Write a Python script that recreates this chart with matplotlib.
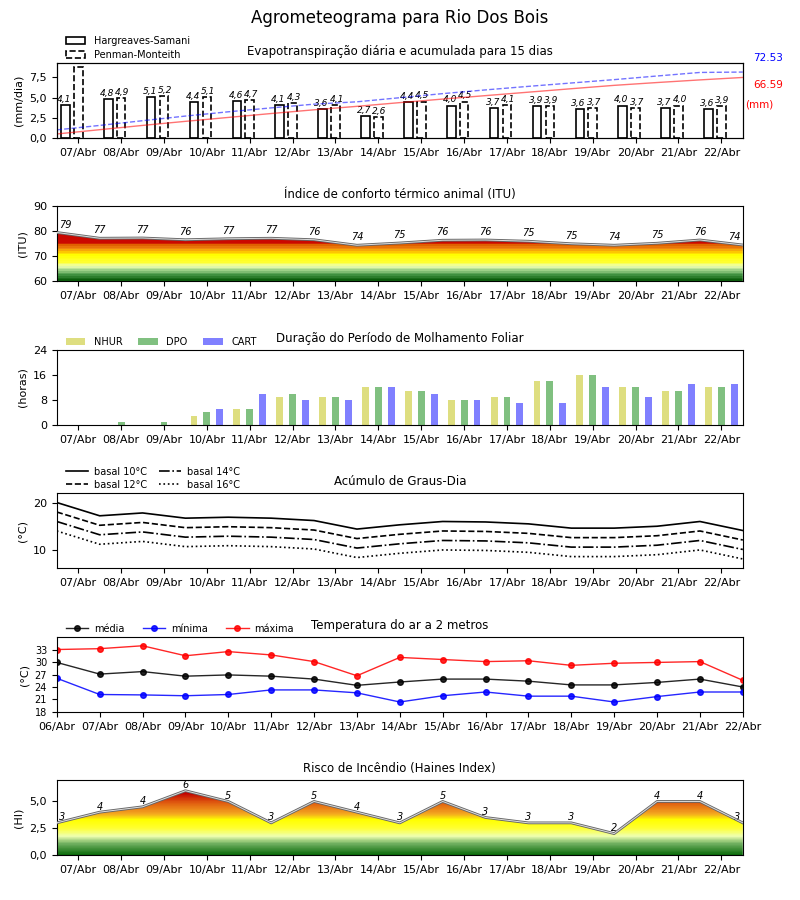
import numpy as np
import matplotlib
matplotlib.use("Agg")
import matplotlib.pyplot as plt
from matplotlib.colors import LinearSegmentedColormap
from matplotlib.patches import Patch, Polygon
from matplotlib.ticker import FuncFormatter

# dias (eixo x diário) e rótulos
dias = ["07/Abr", "08/Abr", "09/Abr", "10/Abr", "11/Abr", "12/Abr", "13/Abr", "14/Abr",
        "15/Abr", "16/Abr", "17/Abr", "18/Abr", "19/Abr", "20/Abr", "21/Abr", "22/Abr"]
dias_temp = ["06/Abr"] + dias

# evapotranspiração (mm/dia)
et_hs = [4.1, 4.8, 5.1, 4.4, 4.6, 4.1, 3.6, 2.7, 4.4, 4.0, 3.7, 3.9, 3.6, 4.0, 3.7, 3.6]
et_pm = [8.8, 4.9, 5.2, 5.1, 4.7, 4.3, 4.1, 2.6, 4.5, 4.5, 4.1, 3.9, 3.7, 3.7, 4.0, 3.9]
# acumulado (mm)
acum_hs = [4.4, 9.1, 13.8, 18.3, 22.6, 26.9, 31.0, 34.8, 38.9, 42.8, 46.6, 50.4,
           54.2, 57.9, 61.0, 63.9, 66.59]
acum_pm = [8.9, 13.8, 19.0, 24.1, 28.8, 33.1, 37.2, 39.8, 44.3, 48.8, 52.9, 56.8,
           60.5, 64.2, 68.2, 72.1, 72.53]

# ITU
itu = [79.4, 77.1, 77.2, 76.5, 76.9, 77.1, 76.5, 74.3, 75.2, 76.3, 76.4, 75.9,
       74.9, 74.3, 75.1, 76.4, 74.4]
itu_rot = [79, 77, 77, 76, 77, 77, 76, 74, 75, 76, 76, 75, 75, 74, 75, 76, 74]

# molhamento foliar (horas)
nhur = [0, 0, 0, 3, 5, 9, 9, 12, 11, 8, 9, 14, 16, 12, 11, 12]
dpo = [0, 1, 1, 4, 5, 10, 9, 12, 11, 8, 9, 14, 16, 12, 11, 12]
cart = [0, 0, 0, 5, 10, 8, 8, 12, 10, 8, 7, 7, 12, 9, 13, 13]

# graus-dia
gd10 = [20.0, 17.2, 17.8, 16.7, 16.9, 16.7, 16.2, 14.4, 15.3, 16.0, 15.9, 15.5,
        14.6, 14.6, 15.0, 16.0, 14.1]
gd12 = [18.0, 15.2, 15.8, 14.7, 14.9, 14.7, 14.2, 12.4, 13.3, 14.0, 13.9, 13.5,
        12.6, 12.6, 13.0, 14.0, 12.1]
gd14 = [16.0, 13.2, 13.8, 12.7, 12.9, 12.7, 12.2, 10.4, 11.3, 12.0, 11.9, 11.5,
        10.6, 10.6, 11.0, 12.0, 10.1]
gd16 = [14.0, 11.2, 11.8, 10.7, 10.9, 10.7, 10.2, 8.4, 9.3, 10.0, 9.9, 9.5,
        8.6, 8.6, 9.0, 10.0, 8.1]

# temperatura do ar (°C)
t_med = [29.9, 27.1, 27.7, 26.6, 26.9, 26.6, 25.9, 24.4, 25.2, 25.9, 25.9, 25.4,
         24.5, 24.5, 25.1, 25.9, 24.0]
t_min = [26.1, 22.2, 22.1, 21.9, 22.2, 23.3, 23.3, 22.6, 20.4, 21.9, 22.8, 21.8,
         21.8, 20.4, 21.7, 22.8, 22.8]
t_max = [33.0, 33.2, 33.9, 31.5, 32.5, 31.7, 30.1, 26.7, 31.1, 30.6, 30.1, 30.3,
         29.2, 29.7, 29.9, 30.1, 25.6]

# Haines
haines = [3.0, 4.0, 4.5, 6.0, 5.0, 3.0, 5.0, 4.0, 3.0, 5.0, 3.5, 3.0, 3.0, 2.0,
          5.0, 5.0, 3.0]
haines_rot = [3, 4, 4, 6, 5, 3, 5, 4, 3, 5, 3, 3, 3, 2, 4, 4, 3]

virgula = FuncFormatter(lambda v, p: ("%.1f" % v).replace(".", ","))

x = np.arange(len(dias))
xh = np.arange(len(itu)) - 0.5  # pontos entre os dias

fig = plt.figure(figsize=(8, 9), dpi=100)
fig.suptitle("Agrometeograma para Rio Dos Bois", fontsize=12, y=0.99)

L, W, H = 0.071, 0.8575, 0.0833
bottoms = [0.8467, 0.6878, 0.5278, 0.3689, 0.2089, 0.05]
axs = [fig.add_axes([L, b, W, H]) for b in bottoms]

for ax in axs:
    ax.tick_params(labelsize=8)

def eixo_dias(ax):
    ax.set_xlim(-0.5, len(dias) - 0.5)
    ax.set_xticks(x)
    ax.set_xticklabels(dias)

def preenche(ax, xs, ys, y0, y1, cmap, passos):
    grad = np.linspace(0, 1, passos)[:, None]
    im = ax.imshow(grad, extent=[xs[0], xs[-1], y0, y1], origin="lower",
                   aspect="auto", cmap=cmap, interpolation="nearest", zorder=1)
    verts = [(xs[0], y0)] + list(zip(xs, ys)) + [(xs[-1], y0)]
    poly = Polygon(verts, closed=True, facecolor="none", edgecolor="none",
                   transform=ax.transData)
    ax.add_patch(poly)
    im.set_clip_path(poly)
    ax.plot(xs, ys, color="#666666", lw=2.0, zorder=3)
    ax.plot(xs, ys, color="#dddddd", lw=0.7, zorder=4)

leg_kw = dict(loc="lower left", bbox_to_anchor=(0.006, 0.98), frameon=False,
              fontsize=7, borderaxespad=0.1)

# 1) evapotranspiração
ax = axs[0]
bw = 0.2
ax.bar(x - 0.3, et_hs, bw, facecolor="white", edgecolor="black", lw=1.2)
ax.bar(x, et_pm, bw, facecolor="white", edgecolor="black", lw=1.2, ls="--")
ymax_et = 9.27
for i in range(len(dias)):
    ax.text(x[i] - 0.33, et_hs[i] + 0.15, ("%.1f" % et_hs[i]).replace(".", ","),
            ha="center", va="bottom", fontsize=6.5, style="italic")
    if et_pm[i] + 0.8 < ymax_et:
        ax.text(x[i] + 0.03, et_pm[i] + 0.15, ("%.1f" % et_pm[i]).replace(".", ","),
                ha="center", va="bottom", fontsize=6.5, style="italic")
ax.set_ylim(0, ymax_et)
ax.set_yticks([0, 2.5, 5.0, 7.5])
ax.yaxis.set_major_formatter(virgula)
ax.set_ylabel("(mm/dia)", fontsize=8)
eixo_dias(ax)
ax.set_title("Evapotranspiração diária e acumulada para 15 dias", fontsize=8.5)
ax2 = ax.twinx()
ax2.plot(xh, acum_hs, color="red", lw=1, alpha=0.55)
ax2.plot(xh, acum_pm, color="blue", lw=1, alpha=0.55, ls="--")
ax2.set_ylim(0, 82.5)
ax2.set_yticks([])
ax2.set_xlim(-0.5, len(dias) - 0.5)
ax.text(1.015, 1.07, "%.2f" % acum_pm[-1], color="blue", fontsize=7.5,
        transform=ax.transAxes, va="center")
ax.text(1.015, 0.71, "%.2f" % acum_hs[-1], color="red", fontsize=7.5,
        transform=ax.transAxes, va="center")
ax.text(1.003, 0.44, "(mm)", color="red", fontsize=7.5,
        transform=ax.transAxes, va="center")
ax.legend(handles=[Patch(facecolor="white", edgecolor="black", lw=1.2, label="Hargreaves-Samani"),
                   Patch(facecolor="white", edgecolor="black", lw=1.2, ls="--", label="Penman-Monteith")],
          handlelength=2.0, handletextpad=0.9, labelspacing=0.4, **leg_kw)

# 2) ITU
ax = axs[1]
cmap_itu = LinearSegmentedColormap.from_list("itu", [
    (0.00, "#0b5e0b"), (0.08, "#4a9a4a"), (0.14, "#a8d890"), (0.19, "#eeffb0"),
    (0.25, "#ffff30"), (0.34, "#ffff00"), (0.38, "#ffcc00"), (0.43, "#f08a10"),
    (0.48, "#e06000"), (0.51, "#cc0a00"), (1.00, "#c00000")])
preenche(ax, xh, itu, 60, 90, cmap_itu, 45)
for i, v in enumerate(itu_rot):
    ha = "left" if i == 0 else ("right" if i == len(itu_rot) - 1 else "center")
    xx = xh[i] + (0.05 if i == 0 else (-0.05 if i == len(itu_rot) - 1 else 0))
    ax.text(xx, itu[i] + 1.2, str(v), ha=ha, va="bottom", fontsize=7, style="italic")
ax.set_ylim(60, 90)
ax.set_yticks([60, 70, 80, 90])
ax.set_ylabel("(ITU)", fontsize=8)
eixo_dias(ax)
ax.set_title("Índice de conforto térmico animal (ITU)", fontsize=8.5)

# 3) molhamento foliar
ax = axs[2]
bw = 0.16
ax.bar(x - 0.3, nhur, bw, color="#dede80", label="NHUR")
ax.bar(x, dpo, bw, color="#80c080", label="DPO")
ax.bar(x + 0.3, cart, bw, color="#8080ff", label="CART")
ax.set_ylim(0, 24)
ax.set_yticks([0, 8, 16, 24])
ax.set_ylabel("(horas)", fontsize=8)
eixo_dias(ax)
ax.set_title("Duração do Período de Molhamento Foliar", fontsize=8.5)
ax.legend(ncol=3, handlelength=2.0, handletextpad=0.9, columnspacing=1.6, **leg_kw)

# 4) graus-dia
ax = axs[3]
ax.plot(xh, gd10, color="black", lw=1.2, ls="-", label="basal 10°C")
ax.plot(xh, gd12, color="black", lw=1.2, ls="--", label="basal 12°C")
ax.plot(xh, gd14, color="black", lw=1.2, ls="-.", label="basal 14°C")
ax.plot(xh, gd16, color="black", lw=1.2, ls=":", label="basal 16°C")
ax.set_ylim(6.2, 22)
ax.set_yticks([10, 20])
ax.set_ylabel("(°C)", fontsize=8)
eixo_dias(ax)
ax.set_title("Acúmulo de Graus-Dia", fontsize=8.5)
ax.legend(ncol=2, handlelength=2.3, handletextpad=0.6, columnspacing=1.2,
          labelspacing=0.3, **leg_kw)

# 5) temperatura
ax = axs[4]
xt = np.arange(len(dias_temp))
ax.plot(xt, t_med, color="black", lw=1, marker="o", ms=4, label="média", alpha=0.85)
ax.plot(xt, t_min, color="blue", lw=1, marker="o", ms=4, label="mínima", alpha=0.85)
ax.plot(xt, t_max, color="red", lw=1, marker="o", ms=4, label="máxima", alpha=0.85)
ax.set_xlim(0, len(dias_temp) - 1)
ax.set_xticks(xt)
ax.set_xticklabels(dias_temp)
ax.set_ylim(18, 36)
ax.set_yticks([18, 21, 24, 27, 30, 33])
ax.tick_params(axis="y", labelsize=7)
ax.set_ylabel("(°C)", fontsize=8)
ax.set_title("Temperatura do ar a 2 metros", fontsize=8.5)
ax.legend(ncol=3, handlelength=2.3, handletextpad=0.6, columnspacing=1.9, **leg_kw)

# 6) Haines
ax = axs[5]
cmap_hi = LinearSegmentedColormap.from_list("hi", [
    (0.00, "#0b6b0b"), (0.15, "#70b060"), (0.25, "#eeffb0"), (0.36, "#ffff30"),
    (0.47, "#ffff00"), (0.55, "#f4a820"), (0.70, "#e05c10"), (0.83, "#c00000"),
    (1.00, "#c00000")])
preenche(ax, xh, haines, 0, 7, cmap_hi, 200)
for i, v in enumerate(haines_rot):
    ha = "left" if i == 0 else ("right" if i == len(haines_rot) - 1 else "center")
    xx = xh[i] + (0.05 if i == 0 else (-0.05 if i == len(haines_rot) - 1 else 0))
    ax.text(xx, haines[i] + 0.05, str(v), ha=ha, va="bottom", fontsize=7, style="italic")
ax.set_ylim(0, 7)
ax.set_yticks([0, 2.5, 5.0])
ax.yaxis.set_major_formatter(virgula)
ax.set_ylabel("(HI)", fontsize=8)
eixo_dias(ax)
ax.set_title("Risco de Incêndio (Haines Index)", fontsize=8.5)

fig.savefig("out.png", dpi=100)
